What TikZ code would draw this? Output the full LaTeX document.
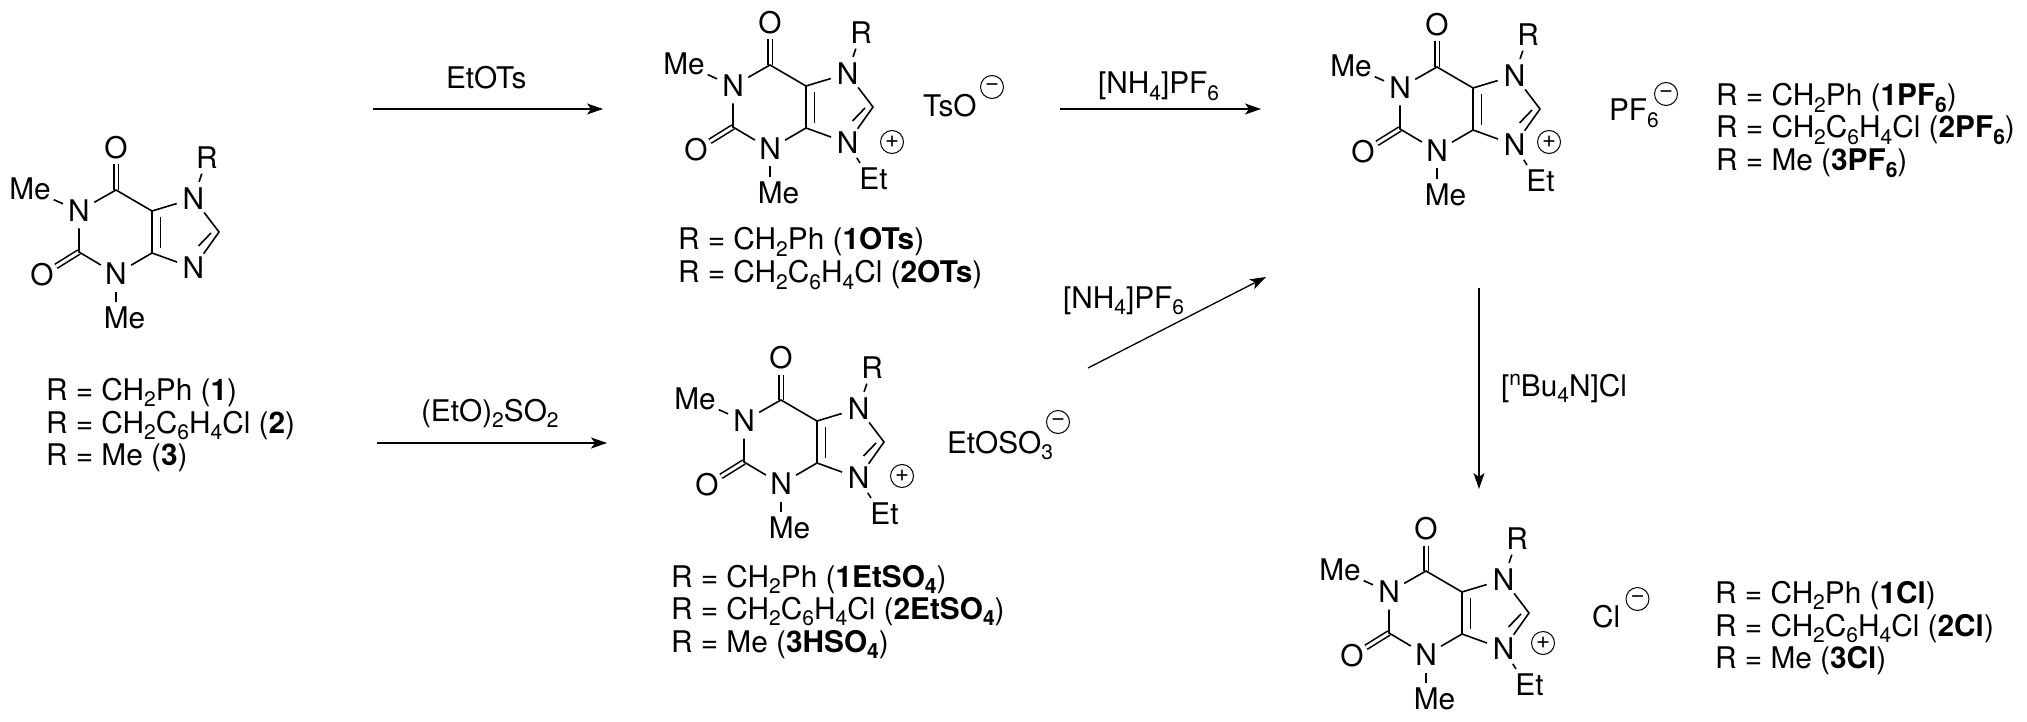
\documentclass[tikz,border=0pt]{standalone}
\usepackage{fontspec}
\setmainfont{TeX Gyre Heros}
\usetikzlibrary{arrows.meta}
\newcommand{\sbs}[1]{\raisebox{-6.5pt}{\fontsize{21}{21}\selectfont #1}}
\newcommand{\sps}[1]{\raisebox{11pt}{\fontsize{21}{21}\selectfont #1}}
\tikzset{
  x=1pt,y=-1pt,
  every node/.style={font=\fontsize{29.8}{32}\selectfont,inner sep=0pt,outer sep=0pt},
  atom/.style={circle,minimum size=35pt},
  meatom/.style={circle,minimum size=52pt},
  oxy/.style={circle,minimum size=33pt},
  plainatom/.style={},
  bond/.style={line width=1.6pt},
  dbond/.style={line width=1.6pt,double,double distance=3pt},
  label/.style={anchor=base west},
  charge/.style={circle,draw,line width=1pt,minimum size=23pt,font=\fontsize{24}{24}\selectfont},
  rx/.style={line width=1.3pt,-{Stealth[length=16pt,width=11pt,inset=4pt]}}
}
\newcommand{\xanthine}[3]{%
\begin{scope}[shift={(#2,#3)}]
  \coordinate (#1c6) at (0,0);
  \coordinate (#1c2) at (-37,62);
  \coordinate (#1c4) at (36,63);
  \coordinate (#1c5) at (36,21);
  \coordinate (#1c8) at (103,42);
  \coordinate (#1i1) at (44.5,27);
  \coordinate (#1i2) at (44.5,58);
  \coordinate (#1i3) at (82.5,56);
  \coordinate (#1i4) at (95,43);
  \coordinate (#1mb) at (0,112);
  \node[oxy] (#1o6) at (0,-42) {O};
  \node[atom] (#1n1) at (-37,21) {N};
  \node[atom] (#1n3) at (0,84) {N};
  \node[atom] (#1n7) at (77.5,8.5) {N};
  \node[atom] (#1n9) at (77.5,78) {N};
  \node[oxy] (#1r) at (91,-32) {R};
  \node[meatom] (#1me1) at (-86,-1) {Me};
  \node[oxy] (#1o2) at (-74,85) {O};
  \node[plainatom] (#1me3) at (8.5,128) {Me};
  \draw[dbond] (#1o6) -- (#1c6);
  \draw[dbond] (#1o2) -- (#1c2);
  \draw[bond,line join=miter] (#1n1) -- (#1c6) -- (#1c5) -- (#1c4) -- (#1n3);
  \draw[bond] (#1n1) -- (#1c2) -- (#1n3);
  \draw[bond] (#1c5) -- (#1n7);
  \draw[bond] (#1c4) -- (#1n9);
  \draw[bond] (#1n7) -- (#1c8) -- (#1n9);
  \draw[bond] (#1i1) -- (#1i2);
  \draw[bond] (#1i3) -- (#1i4);
  \draw[bond] (#1n7) -- (#1r);
  \draw[bond] (#1n1) -- (#1me1);
  \draw[bond] (#1n3) -- (#1mb);
\end{scope}}
\newcommand{\cation}[5]{%
\xanthine{#1}{#2}{#3}
\begin{scope}[shift={(#2,#3)}]
  \coordinate (#1eb) at (90,98);
  \node[plainatom] (#1et) at (103.5,114) {Et};
  \node[charge] (#1plus) at (#4,#5) {+};
  \draw[bond] (#1n9) -- (#1eb);
\end{scope}}
\begin{document}
\begin{tikzpicture}
\useasboundingbox (0,0) rectangle (2027,722);
\xanthine{a}{116}{190}
\cation{b}{770}{65}{122}{77}
\cation{c}{781}{400}{121}{76}
\cation{d}{1437}{67}{112}{75}
\cation{e}{1426}{571}{117}{72}

\node[label] (la1) at (46,400) {R = CH\sbs{2}Ph (\textbf{1})};
\node[label] (la2) at (46,433) {R = CH\sbs{2}C\sbs{6}H\sbs{4}Cl (\textbf{2})};
\node[label] (la3) at (46,465) {R = Me (\textbf{3})};

\node[label] (lb1) at (678,250) {R = CH\sbs{2}Ph (\textbf{1OTs})};
\node[label] (lb2) at (678,283) {R = CH\sbs{2}C\sbs{6}H\sbs{4}Cl (\textbf{2OTs})};

\node[label] (lc1) at (671,587) {R = CH\sbs{2}Ph (\textbf{1EtSO\sbs{4}})};
\node[label] (lc2) at (671,619) {R = CH\sbs{2}C\sbs{6}H\sbs{4}Cl (\textbf{2EtSO\sbs{4}})};
\node[label] (lc3) at (671,652) {R = Me (\textbf{3HSO\sbs{4}})};

\node[label] (ld1) at (1716,106) {R = CH\sbs{2}Ph (\textbf{1PF\sbs{6}})};
\node[label] (ld2) at (1716,138) {R = CH\sbs{2}C\sbs{6}H\sbs{4}Cl (\textbf{2PF\sbs{6}})};
\node[label] (ld3) at (1716,171) {R = Me (\textbf{3PF\sbs{6}})};

\node[label] (le1) at (1715,603) {R = CH\sbs{2}Ph (\textbf{1Cl})};
\node[label] (le2) at (1715,636) {R = CH\sbs{2}C\sbs{6}H\sbs{4}Cl (\textbf{2Cl})};
\node[label] (le3) at (1715,668) {R = Me (\textbf{3Cl})};

\node[label] (anb) at (923,117) {TsO};
\node[charge] (mb) at (992,87) {−};
\node[label] (anc) at (947,453) {EtOSO\sbs{3}};
\node[charge] (mc) at (1058,422) {−};
\node[label] (and) at (1609,121) {PF\sbs{6}};
\node[charge] (md) at (1666,94) {−};
\node[label] (ane) at (1592,627) {Cl};
\node[charge] (me) at (1637.5,599) {−};

\coordinate (r1s) at (373,109); \coordinate (r1e) at (603,109);
\coordinate (r2s) at (377,443); \coordinate (r2e) at (607,443);
\coordinate (r3s) at (1060,109); \coordinate (r3e) at (1261,109);
\coordinate (r4s) at (1088,368); \coordinate (r4e) at (1266,277);
\coordinate (r5s) at (1479,288); \coordinate (r5e) at (1479,489);
\draw[rx] (r1s) -- (r1e);
\draw[rx] (r2s) -- (r2e);
\draw[rx] (r3s) -- (r3e);
\draw[rx] (r4s) -- (r4e);
\draw[rx] (r5s) -- (r5e);
\node[label] (t1) at (446,89) {EtOTs};
\node[label] (t2) at (421,421) {(EtO)\sbs{2}SO\sbs{2}};
\node[label] (t3) at (1098,94) {[NH\sbs{4}]PF\sbs{6}};
\node[label] (t4) at (1063,308) {[NH\sbs{4}]PF\sbs{6}};
\node[label] (t5) at (1501,396) {[\sps{n}Bu\sbs{4}N]Cl};
\end{tikzpicture}
\end{document}
